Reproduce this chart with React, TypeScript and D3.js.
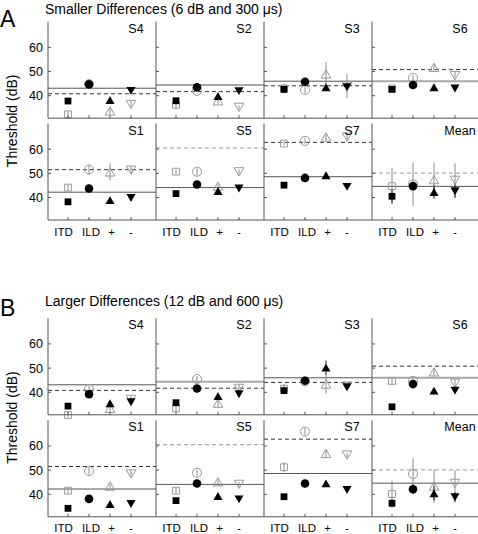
import React from "react";
import * as d3 from "d3";

const categories = ["ITD", "ILD", "+", "-"];
const subjects = ["S4", "S2", "S3", "S6", "S1", "S5", "S7", "Mean"];
const yTicks = [40, 50, 60];
const sectionTitles = [
  "Smaller Differences (6 dB and 300 \u03bcs)",
  "Larger Differences (12 dB and 600 \u03bcs)",
];
const sectionLetters = ["A", "B"];

// reference thresholds (solid and dashed lines), per subject
const refSolid = [43.1, 44.4, 46.0, 46.0, 42.2, 44.1, 48.6, 44.6];
const refDashed = [40.8, 41.7, 44.1, 50.8, 51.5, 60.5, 62.8, 50.1];
const solidGrayA = [false, true, false, true, false, false, false, false];
const solidGrayB = [false, true, false, true, true, false, false, false];
const dashedGray = [false, false, false, false, false, true, false, true];

// Section A: filled (black) and open (gray) markers per subject [ITD, ILD, +, -]
const aFilled = [
  [37.8, 44.7, 38.2, 42.0],
  [37.9, 43.5, 39.9, 41.9],
  [42.6, 45.8, 43.5, 43.5],
  [42.6, 44.4, 43.5, 43.0],
  [38.2, 43.7, 38.9, 39.8],
  [41.6, 45.4, 42.7, 43.7],
  [45.1, 48.1, 49.2, 44.4],
  [40.5, 44.7, 42.3, 42.6],
];
const aFilledErr = [
  [0, 0, 0, 0],
  [0, 0, 0, 0],
  [0, 0, 0, 0],
  [0, 0, 0, 0],
  [0, 0, 0, 0],
  [0, 0, 0, 0],
  [0, 0, 0, 0],
  [2.8, 0, 2.8, 2.8],
];
const aOpen = [
  [32.3, 44.8, 33.7, 36.4],
  [36.2, 42.0, 37.9, 35.2],
  [43.0, 42.4, 49.0, 44.0],
  [43.0, 47.4, 51.7, 48.3],
  [44.1, 51.6, 50.6, 51.3],
  [50.7, 50.7, 44.7, 50.6],
  [62.3, 63.4, 65.0, 65.0],
  [44.7, 45.5, 47.4, 47.1],
];
const aOpenErr = [
  [1.2, 0.8, 1.2, 1.5],
  [1.2, 0.5, 1.2, 0.8],
  [2.0, 1.5, 5.0, 5.0],
  [0.8, 1.2, 1.5, 1.5],
  [1.2, 2.0, 3.5, 1.5],
  [0.8, 1.5, 0.8, 1.0],
  [0.8, 1.2, 1.5, 1.5],
  [7.5, 9.0, 7.0, 7.0],
];

// Section B
const bFilled = [
  [34.3, 39.2, 35.5, 35.9],
  [35.7, 41.6, 38.5, 39.2],
  [40.7, 44.8, 50.2, 42.1],
  [34.0, 43.4, 40.7, 40.7],
  [34.2, 38.1, 36.0, 36.0],
  [37.4, 44.5, 39.3, 37.9],
  [39.0, 44.5, 44.5, 41.8],
  [36.3, 42.1, 40.4, 38.8],
];
const bFilledErr = [
  [0, 0, 0, 0],
  [0, 0, 0, 0],
  [1.5, 1.0, 3.0, 0],
  [1.0, 0, 0, 0],
  [0, 0, 0, 0],
  [0, 0, 0, 0],
  [0, 0, 0, 0],
  [1.7, 2.0, 3.0, 2.0],
];
const bOpen = [
  [30.6, 41.4, 33.4, 37.1],
  [33.4, 45.5, 35.5, 41.6],
  [41.5, 44.5, 43.4, 42.5],
  [44.7, 44.7, 48.5, 43.7],
  [41.5, 49.6, 43.4, 48.4],
  [41.5, 48.9, 45.2, 44.1],
  [51.2, 65.9, 56.9, 56.2],
  [40.1, 48.4, 43.4, 44.5],
];
const bOpenErr = [
  [0.8, 1.2, 1.5, 1.5],
  [1.5, 1.2, 1.5, 1.5],
  [2.0, 1.0, 4.0, 1.0],
  [1.2, 0.8, 1.5, 1.5],
  [1.2, 1.5, 1.0, 1.5],
  [1.5, 1.2, 1.0, 1.0],
  [2.0, 1.5, 1.5, 1.0],
  [5.5, 6.5, 7.0, 5.5],
];

const sections = [
  { filled: aFilled, filledErr: aFilledErr, open: aOpen, openErr: aOpenErr, solidGray: solidGrayA },
  { filled: bFilled, filledErr: bFilledErr, open: bOpen, openErr: bOpenErr, solidGray: solidGrayB },
];

const W = 478;
const H = 534;
const FONT = "'Liberation Sans', Arial, Helvetica, sans-serif";
const colLefts = [48, 156, 264, 372];
const panelW = 108;
const panelH = 96.5;
const rowTops = [[21.7, 123.5], [318.3, 420.3]];
const sectionTitleY = [14, 305.5];
const letterY = [26.5, 315.5];
const catLabelY = [235.5, 532];
const catLabelShift = [-4.5, 2, 1.5, 0];

const shapeTypes = [d3.symbolSquare, d3.symbolCircle, d3.symbolTriangle, d3.symbolTriangle];

function Marker({ cat, cx, cy, filled }: { cat: number; cx: number; cy: number; filled: boolean }) {
  const sizesFilled = [46, 58, 36, 36];
  const sizesOpen = [46, 64, 40, 40];
  const size = filled ? sizesFilled[cat] : sizesOpen[cat];
  const path = d3.symbol().type(shapeTypes[cat]).size(size)() as string;
  let transform = `translate(${cx},${cy})`;
  if (cat === 2 || cat === 3) {
    const yy = Math.sqrt(size / (3 * Math.sqrt(3)));
    if (cat === 2) transform = `translate(${cx},${cy + yy / 2})`;
    else transform = `translate(${cx},${cy - yy / 2}) rotate(180)`;
  }
  return filled ? (
    <path d={path} transform={transform} fill="#000" stroke="none" />
  ) : (
    <path d={path} transform={transform} fill="none" stroke="#9a9a9a" strokeWidth={1} />
  );
}

function Panel({ sec, idx }: { sec: number; idx: number }) {
  const row = Math.floor(idx / 4);
  const col = idx % 4;
  const left = colLefts[col];
  const top = rowTops[sec][row];
  const bottom = top + panelH;
  const right = left + panelW;
  const x = d3.scalePoint<string>().domain(categories).range([left + 20, left + 83]);
  const y = d3.scaleLinear().domain([30.7, 70.6]).range([bottom, top]);
  const S = sections[sec];
  const solidGrayThis = S.solidGray[idx];
  return (
    <g>
      <line
        x1={left}
        x2={right}
        y1={y(refSolid[idx])}
        y2={y(refSolid[idx])}
        stroke={solidGrayThis ? "#a8a8a8" : "#555"}
        strokeWidth={solidGrayThis ? 2 : 1}
      />
      <line
        x1={left}
        x2={right}
        y1={y(refDashed[idx])}
        y2={y(refDashed[idx])}
        stroke={dashedGray[idx] ? "#9a9a9a" : "#333"}
        strokeWidth={1}
        strokeDasharray="4,3"
      />
      {categories.map((c, k) => {
        const v = S.open[idx][k];
        const e = S.openErr[idx][k];
        const cx = x(c) as number;
        return (
          <g key={"o" + k}>
            {e > 0 && (
              <line x1={cx} x2={cx} y1={y(v - e)} y2={y(v + e)} stroke="#8a8a8a" strokeWidth={1} />
            )}
            <Marker cat={k} cx={cx} cy={y(v)} filled={false} />
          </g>
        );
      })}
      {categories.map((c, k) => {
        const v = S.filled[idx][k];
        const e = S.filledErr[idx][k];
        const cx = x(c) as number;
        return (
          <g key={"f" + k}>
            {e > 0 && <line x1={cx} x2={cx} y1={y(v - e)} y2={y(v + e)} stroke="#222" strokeWidth={1} />}
            <Marker cat={k} cx={cx} cy={y(v)} filled={true} />
          </g>
        );
      })}
      <line x1={left} x2={left} y1={top} y2={bottom} stroke="#555" strokeWidth={1} />
      <line x1={left} x2={right} y1={bottom} y2={bottom} stroke="#555" strokeWidth={1} />
      {yTicks.map((t) => (
        <line key={"yt" + t} x1={left} x2={left + 3} y1={y(t)} y2={y(t)} stroke="#555" strokeWidth={1} />
      ))}
      {categories.map((c) => (
        <line
          key={"xt" + c}
          x1={x(c) as number}
          x2={x(c) as number}
          y1={bottom}
          y2={bottom - 3}
          stroke="#555"
          strokeWidth={1}
        />
      ))}
      {col === 0 &&
        yTicks.map((t) => (
          <text
            key={"yl" + t}
            x={left - 5}
            y={y(t)}
            dy="0.36em"
            textAnchor="end"
            fontSize={12.5}
            fontFamily={FONT}
          >
            {t}
          </text>
        ))}
      {row === 1 &&
        categories.map((c, k) => (
          <text
            key={"xl" + c}
            x={(x(c) as number) + catLabelShift[k]}
            y={catLabelY[sec]}
            textAnchor="middle"
            fontSize={11.5}
            fontFamily={FONT}
          >
            {c}
          </text>
        ))}
      <text x={left + 88} y={top + 11} textAnchor="middle" fontSize={12.5} fontFamily={FONT}>
        {subjects[idx]}
      </text>
    </g>
  );
}

export default function App() {
  return (
    <svg
      width={W}
      height={H}
      viewBox={`0 0 ${W} ${H}`}
      style={{ position: "absolute", left: 0, top: 0, background: "#fff" }}
    >
      <rect x={0} y={0} width={W} height={H} fill="#fff" />
      {[0, 1].map((sec) => (
        <g key={"sec" + sec}>
          <text x={0} y={letterY[sec]} fontSize={23} fontFamily={FONT}>
            {sectionLetters[sec]}
          </text>
          <text x={45} y={sectionTitleY[sec]} fontSize={14} fontFamily={FONT}>
            {sectionTitles[sec]}
          </text>
          <text
            transform={`translate(16.5,${(rowTops[sec][0] + rowTops[sec][1] + panelH) / 2}) rotate(-90)`}
            textAnchor="middle"
            fontSize={14}
            fontFamily={FONT}
          >
            Threshold (dB)
          </text>
          {subjects.map((s, i) => (
            <Panel key={s} sec={sec} idx={i} />
          ))}
        </g>
      ))}
    </svg>
  );
}
